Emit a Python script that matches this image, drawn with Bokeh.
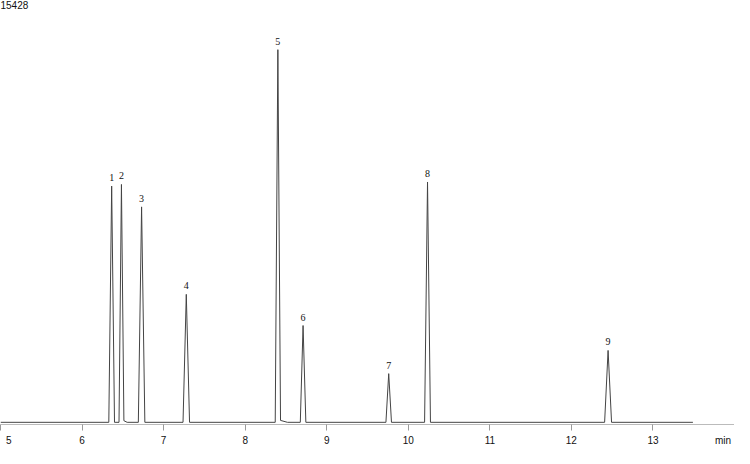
from bokeh.plotting import figure
from bokeh.models import Range1d, FixedTicker, LabelSet, Label, ColumnDataSource, LinearAxis
from bokeh.embed import file_html
from bokeh.resources import INLINE

# ---- data ----
run_start = 5.0
run_end = 13.49
y_max_label = 15428

peak_labels = ["1", "2", "3", "4", "5", "6", "7", "8", "9"]
peak_rt = [6.363, 6.483, 6.730, 7.278, 8.401, 8.710, 9.760, 10.236, 12.450]
peak_height = [8640, 8700, 7880, 4680, 13630, 3540, 1780, 8790, 2630]
peak_base_width = [0.070, 0.060, 0.080, 0.080, 0.065, 0.068, 0.068, 0.072, 0.085]
peak_tail_level = [0, 60, 0, 0, 70, 0, 0, 0, 0]
peak_tail_len = [0, 0.04, 0, 0, 0.085, 0, 0, 0, 0]

tick_values = [5, 6, 7, 8, 9, 10, 11, 12, 13]
unit_label = "min"
unit_pos = 13.86

# ---- build the trace vertices from the peak table ----
tx = [run_start]
ty = [0]
for rt, h, w, tl, tlen in zip(peak_rt, peak_height, peak_base_width, peak_tail_level, peak_tail_len):
    tx += [rt - w / 2, rt, rt + w / 2]
    ty += [0, h, tl]
    if tl > 0:
        tx.append(rt + w / 2 + tlen)
        ty.append(0)
tx.append(run_end)
ty.append(0)

FONT = "Liberation Sans"
TXT = "#111111"

p = figure(width=734, height=448, output_backend="svg", toolbar_location=None,
           x_range=Range1d(5, 14), y_range=Range1d(-80, y_max_label),
           min_border=0, min_border_left=0, min_border_right=0,
           min_border_top=0, min_border_bottom=0)
p.outline_line_color = None
p.xgrid.visible = False
p.ygrid.visible = False
p.yaxis.visible = False
p.background_fill_color = "white"
p.border_fill_color = "white"

p.line(tx, ty, line_color="#444444", line_width=1)

# axis 1: axis line and tick marks
ax = p.xaxis[0]
ax.ticker = FixedTicker(ticks=tick_values, minor_ticks=[])
ax.major_label_overrides = {t: "" for t in tick_values}
ax.major_label_text_font_size = "1px"
ax.major_label_standoff = 0
ax.axis_line_color = "#bbbbbb"
ax.major_tick_line_color = "#999999"
ax.major_tick_out = 6
ax.major_tick_in = 0
ax.minor_tick_out = 0
ax.minor_tick_in = 0

# axis 2: tick labels and unit
labels = {5: "\u00a0\u00a05", unit_pos: unit_label}
ax2 = LinearAxis(ticker=FixedTicker(ticks=tick_values + [unit_pos], minor_ticks=[]),
                 major_label_overrides=labels,
                 axis_line_color=None, major_tick_line_color=None,
                 minor_tick_line_color=None,
                 major_tick_out=0, major_tick_in=0, minor_tick_out=0, minor_tick_in=0,
                 major_label_standoff=4,
                 major_label_text_font=FONT, major_label_text_font_size="10px",
                 major_label_text_color=TXT)
p.add_layout(ax2, "below")

src = ColumnDataSource(dict(x=peak_rt, y=peak_height, text=peak_labels))
p.add_layout(LabelSet(x="x", y="y", text="text", source=src, y_offset=5,
                      text_align="center", text_baseline="alphabetic",
                      text_font=FONT, text_font_size="10px", text_color=TXT))

p.add_layout(Label(x=5, y=y_max_label, text=str(y_max_label), text_align="left",
                   text_baseline="top", text_font=FONT, text_font_size="10px",
                   text_color=TXT))

open("out.html", "w").write(file_html(p, INLINE))
